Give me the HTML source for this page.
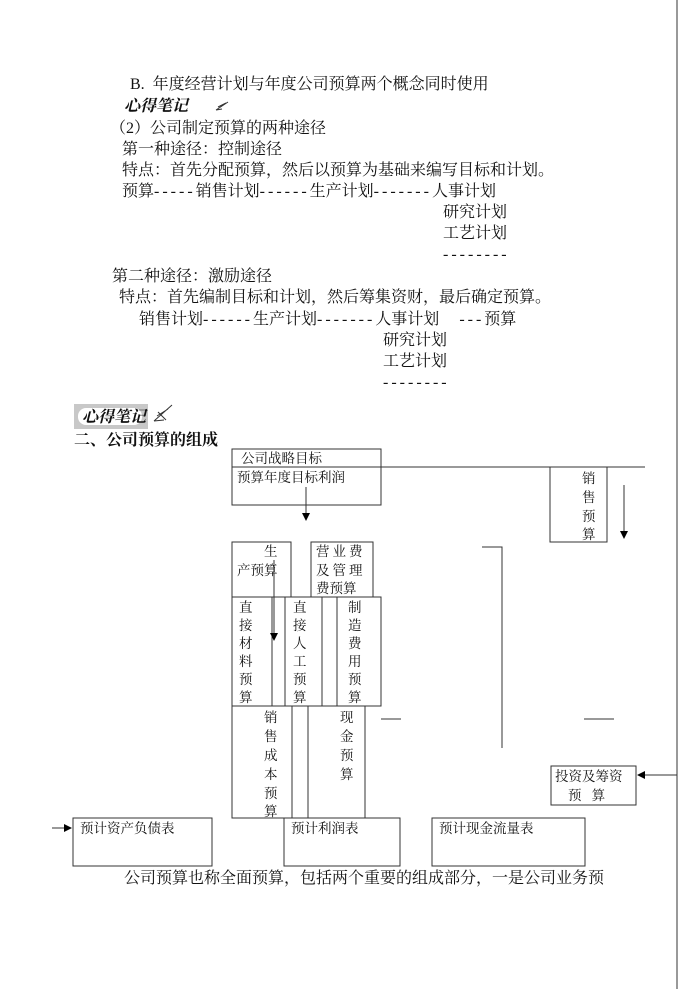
<!DOCTYPE html>
<html><head><meta charset="utf-8"><style>
html,body{margin:0;padding:0;background:#fff;}
svg{display:block;}
text{font-family:"Liberation Serif","Noto Serif CJK SC","Noto Sans CJK SC",serif;font-size:16px;fill:#111;}
.s{font-size:13.5px;}
.d{letter-spacing:3px;}
</style></head><body>
<svg width="700" height="989" viewBox="0 0 700 989" xmlns="http://www.w3.org/2000/svg">
<defs><marker id="a" markerWidth="8" markerHeight="8" refX="7" refY="4" orient="auto"><path d="M0,0 L8,4 L0,8 z" fill="#000"/></marker></defs>
<g>
<text x="130" y="89">B.&#160;&#160;年度经营计划与年度公司预算两个概念同时使用</text>
<text x="124" y="111" font-weight="bold" font-style="italic">心得笔记</text>
<path d="M216,110 L228,102 M216,110 L222,109 M218,107 L226,103" stroke="#333" fill="none"/>
<text x="110" y="133">（2）公司制定预算的两种途径</text>
<text x="122" y="154">第一种途径：控制途径</text>
<text x="122" y="175">特点：首先分配预算，然后以预算为基础来编写目标和计划。</text>
<text x="122" y="196">预算<tspan class="d">-----</tspan>销售计划<tspan class="d">------</tspan>生产计划<tspan class="d">-------</tspan>人事计划</text>
<text x="443" y="217">研究计划</text>
<text x="443" y="238">工艺计划</text>
<text x="443" y="259" class="d">--------</text>
<text x="112" y="281">第二种途径：激励途径</text>
<text x="119" y="302">特点：首先编制目标和计划，然后筹集资财，最后确定预算。</text>
<text x="139" y="324">销售计划<tspan class="d">------</tspan>生产计划<tspan class="d">-------</tspan>人事计划&#160;&#160;&#160;&#160;&#160;<tspan class="d">---</tspan>预算</text>
<text x="383" y="345">研究计划</text>
<text x="383" y="366">工艺计划</text>
<text x="383" y="387" class="d">--------</text>
<rect x="74" y="404" width="74" height="25" fill="#c8c8c8"/>
<rect x="78" y="408" width="64" height="17" rx="8" fill="#fff"/>
<text x="82" y="422" font-size="12" font-weight="bold" font-style="italic">心得笔记</text>
<path d="M154,421 L172,405 M154,421 L164,420 M157,416 L168,409 M158,412 L166,420" stroke="#333" fill="none"/>
<text x="74" y="445" font-size="17" font-weight="bold">二、公司预算的组成</text>
</g>
<g fill="none" stroke="#333" stroke-width="1">
<rect x="232" y="449" width="149" height="56"/>
<line x1="232" y1="467" x2="645" y2="467"/>
<line x1="306" y1="487" x2="306" y2="520" marker-end="url(#a)"/>
<rect x="550" y="467" width="57" height="75"/>
<line x1="624" y1="485" x2="624" y2="538" marker-end="url(#a)"/>
<rect x="232" y="542" width="59" height="55"/>
<rect x="311" y="542" width="62" height="55"/>
<rect x="232" y="597" width="149" height="109"/>
<line x1="272" y1="597" x2="272" y2="706"/>
<line x1="285" y1="597" x2="285" y2="706"/>
<line x1="322" y1="597" x2="322" y2="706"/>
<line x1="337" y1="597" x2="337" y2="706"/>
<line x1="274" y1="560" x2="274" y2="640" marker-end="url(#a)"/>
<rect x="232" y="706" width="60" height="112"/>
<rect x="308" y="706" width="57" height="112"/>
<line x1="381" y1="719" x2="401" y2="719"/>
<line x1="584" y1="719" x2="614" y2="719"/>
<polyline points="482,547 502,547 502,748"/>
<line x1="677" y1="0" x2="677" y2="989"/>
<rect x="551" y="766" width="85" height="39"/>
<line x1="677" y1="775" x2="638" y2="775" marker-end="url(#a)"/>
<rect x="73" y="818" width="139" height="48"/>
<rect x="284" y="818" width="116" height="48"/>
<rect x="432" y="818" width="153" height="48"/>
<line x1="52" y1="828" x2="71" y2="828" marker-end="url(#a)"/>
</g>
<g>
<text class="s" x="241" y="463">公司战略目标</text>
<text class="s" x="237" y="482">预算年度目标利润</text>
<text class="s" x="582" y="483">销</text>
<text class="s" x="582" y="502">售</text>
<text class="s" x="582" y="521">预</text>
<text class="s" x="582" y="539">算</text>
<text class="s" x="264" y="556">生</text>
<text class="s" x="237" y="575">产预算</text>
<text class="s" x="316" y="556" style="letter-spacing:3px">营业费</text>
<text class="s" x="316" y="575" style="letter-spacing:3px">及管理</text>
<text class="s" x="316" y="593">费预算</text>
<text class="s" x="239" y="612">直</text><text class="s" x="239" y="630">接</text><text class="s" x="239" y="648">材</text><text class="s" x="239" y="666">料</text><text class="s" x="239" y="684">预</text><text class="s" x="239" y="702">算</text>
<text class="s" x="293" y="612">直</text><text class="s" x="293" y="630">接</text><text class="s" x="293" y="648">人</text><text class="s" x="293" y="666">工</text><text class="s" x="293" y="684">预</text><text class="s" x="293" y="702">算</text>
<text class="s" x="348" y="612">制</text><text class="s" x="348" y="630">造</text><text class="s" x="348" y="648">费</text><text class="s" x="348" y="666">用</text><text class="s" x="348" y="684">预</text><text class="s" x="348" y="702">算</text>
<text class="s" x="264" y="722">销</text><text class="s" x="264" y="741">售</text><text class="s" x="264" y="760">成</text><text class="s" x="264" y="779">本</text><text class="s" x="264" y="798">预</text><text class="s" x="264" y="816">算</text>
<text class="s" x="340" y="722">现</text><text class="s" x="340" y="741">金</text><text class="s" x="340" y="760">预</text><text class="s" x="340" y="779">算</text>
<text class="s" x="555" y="781">投资及筹资</text>
<text class="s" x="568" y="800">预&#160;&#160;&#160;算</text>
<text class="s" x="80" y="833">预计资产负债表</text>
<text class="s" x="291" y="833">预计利润表</text>
<text class="s" x="439" y="833">预计现金流量表</text>
</g>
<text x="124" y="883">公司预算也称全面预算，包括两个重要的组成部分，一是公司业务预</text>
</svg>
</body></html>
